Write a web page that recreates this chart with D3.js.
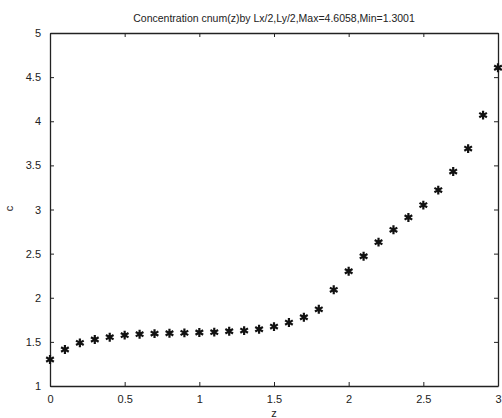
<!DOCTYPE html>
<html>
<head>
<meta charset="utf-8">
<script src="https://cdn.jsdelivr.net/npm/d3@7"></script>
<style>
  body { margin: 0; background: #fff; }
  text { font-family: "Liberation Sans", Arial, sans-serif; fill: #222; }
</style>
</head>
<body>
<div id="chart"></div>
<script>
// Data
const zValues = [0, 0.1, 0.2, 0.3, 0.4, 0.5, 0.6, 0.7, 0.8, 0.9, 1.0,
                 1.1, 1.2, 1.3, 1.4, 1.5, 1.6, 1.7, 1.8, 1.9, 2.0,
                 2.1, 2.2, 2.3, 2.4, 2.5, 2.6, 2.7, 2.8, 2.9, 3.0];
const cValues = [1.3001, 1.414, 1.489, 1.527, 1.553, 1.576, 1.587, 1.594, 1.598, 1.602, 1.606,
                 1.61, 1.62, 1.628, 1.643, 1.673, 1.719, 1.779, 1.869, 2.09, 2.30,
                 2.47, 2.63, 2.77, 2.91, 3.05, 3.22, 3.43, 3.69, 4.07, 4.6058];
const xTicks = [0, 0.5, 1, 1.5, 2, 2.5, 3];
const yTicks = [1, 1.5, 2, 2.5, 3, 3.5, 4, 4.5, 5];
const titleText = "Concentration cnum(z)by Lx/2,Ly/2,Max=4.6058,Min=1.3001";

function drawScatter() {
    const margin = { top: 33, right: 4, bottom: 32, left: 50 };
    const width = 502 - margin.left - margin.right;
    const height = 418 - margin.top - margin.bottom;

    const svg = d3.select("#chart")
        .append("svg")
        .attr("width", 502)
        .attr("height", 418)
        .append("g")
        .attr("transform", `translate(${margin.left},${margin.top})`);

    const xScale = d3.scaleLinear().domain([0, 3]).range([0, width]);
    const yScale = d3.scaleLinear().domain([1, 5]).range([height, 0]);

    // Axes with inward ticks, MATLAB style box
    const styleAxis = g => {
        g.select(".domain").attr("stroke", "#222").attr("stroke-width", 1.3);
        g.selectAll(".tick line").attr("stroke", "#222");
        g.selectAll(".tick text").attr("font-size", 11).attr("fill", "#333");
    };

    svg.append("g")
        .attr("transform", `translate(0,${height})`)
        .call(d3.axisBottom(xScale).tickValues(xTicks).tickFormat(d3.format("")).tickSizeInner(-4).tickSizeOuter(0).tickPadding(9))
        .call(styleAxis);

    svg.append("g")
        .call(d3.axisLeft(yScale).tickValues(yTicks).tickFormat(d3.format("")).tickSizeInner(-4).tickSizeOuter(0).tickPadding(9))
        .call(styleAxis);

    svg.append("g")
        .call(d3.axisTop(xScale).tickValues(xTicks).tickFormat("").tickSizeInner(-4).tickSizeOuter(0))
        .call(styleAxis);

    svg.append("g")
        .attr("transform", `translate(${width},0)`)
        .call(d3.axisRight(yScale).tickValues(yTicks).tickFormat("").tickSizeInner(-4).tickSizeOuter(0))
        .call(styleAxis);

    // Title
    svg.append("text")
        .attr("x", width / 2)
        .attr("y", -11)
        .attr("text-anchor", "middle")
        .attr("font-size", 10.5)
        .text(titleText);

    // Axis labels
    svg.append("text")
        .attr("x", width / 2)
        .attr("y", height + 31)
        .attr("text-anchor", "middle")
        .attr("font-size", 11)
        .text("z");

    svg.append("text")
        .attr("transform", `translate(${-37},${height / 2 - 1}) rotate(-90)`)
        .attr("text-anchor", "middle")
        .attr("font-size", 11)
        .text("c");

    // Asterisk markers
    const marker = d3.symbol().type(d3.symbolAsterisk).size(55);
    svg.selectAll(".pt")
        .data(zValues.map((z, i) => [z, cValues[i]]))
        .enter()
        .append("path")
        .attr("class", "pt")
        .attr("d", marker)
        .attr("transform", d => `translate(${xScale(d[0])},${yScale(d[1])})`)
        .attr("fill", "none")
        .attr("stroke", "#111")
        .attr("stroke-width", 2.2);
}

drawScatter();
</script>
</body>
</html>
